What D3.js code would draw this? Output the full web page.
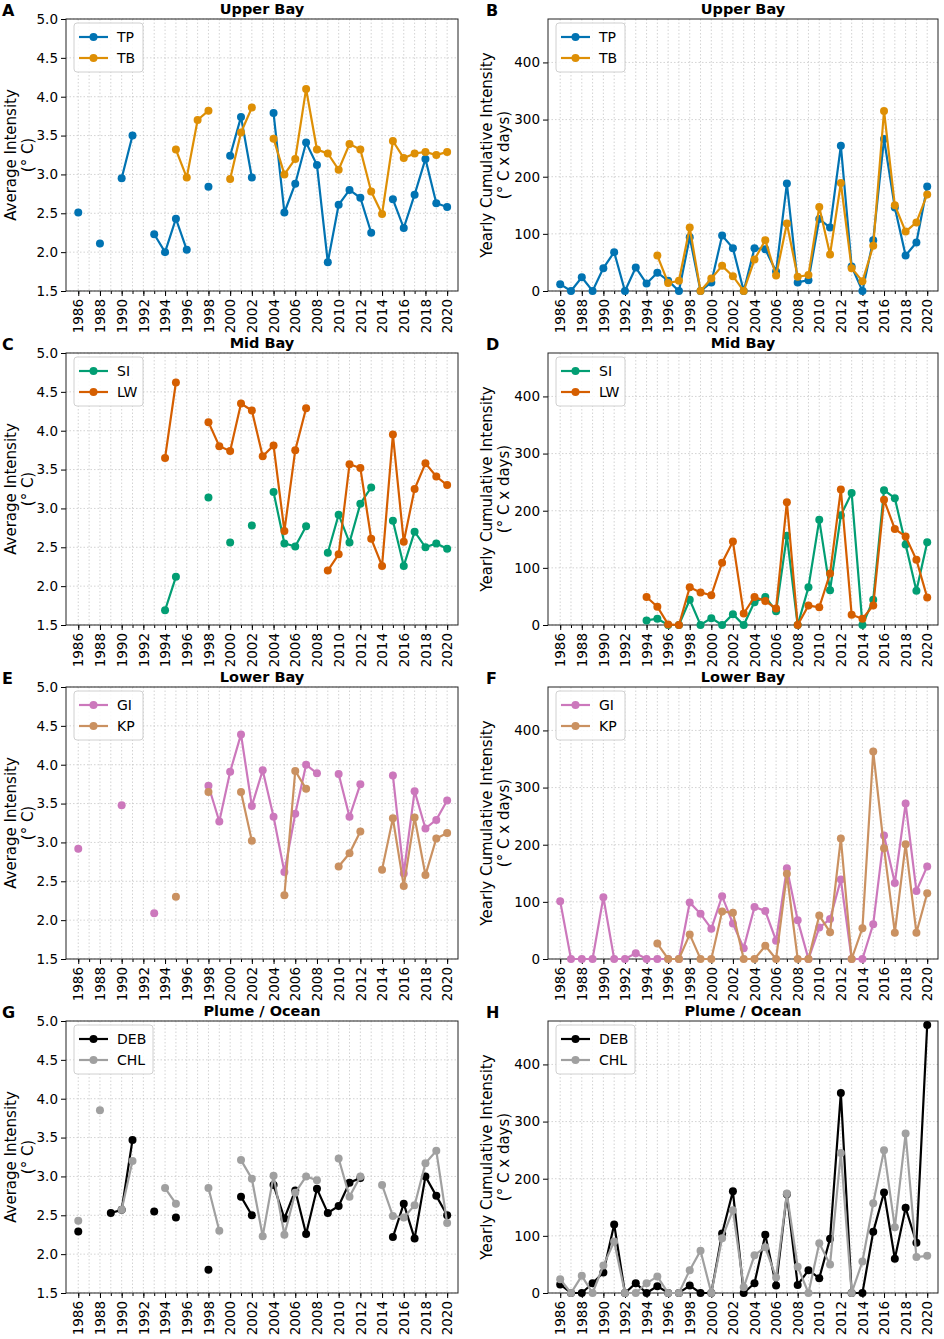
<!DOCTYPE html>
<html>
<head>
<meta charset="utf-8">
<script src="https://cdn.jsdelivr.net/npm/d3@7"></script>
<style>
body { margin: 0; background: #fff; }
text { font-family: "DejaVu Sans", sans-serif; }
</style>
</head>
<body>
<div id="chart"></div>
<script>
// years on the x axis
var years = [1986, 1987, 1988, 1989, 1990, 1991, 1992, 1993, 1994, 1995,
             1996, 1997, 1998, 1999, 2000, 2001, 2002, 2003, 2004, 2005,
             2006, 2007, 2008, 2009, 2010, 2011, 2012, 2013, 2014, 2015,
             2016, 2017, 2018, 2019, 2020];
var yearLabels = [1986, 1988, 1990, 1992, 1994, 1996, 1998, 2000, 2002, 2004,
                  2006, 2008, 2010, 2012, 2014, 2016, 2018, 2020];
var avgTicks = [1.5, 2.0, 2.5, 3.0, 3.5, 4.0, 4.5, 5.0];
var cumTicks = [0, 100, 200, 300, 400];

// Upper Bay
var tpAvg = [2.51, null, 2.11, null, 2.95, 3.50, null, 2.23, 2.00, 2.43,
             2.03, null, 2.84, null, 3.24, 3.74, 2.96, null, 3.79, 2.51,
             2.88, 3.41, 3.12, 1.87, 2.61, 2.80, 2.70, 2.25, null, 2.68,
             2.31, 2.74, 3.20, 2.63, 2.58];
var tbAvg = [null, null, null, null, null, null, null, null, null, 3.32,
             2.96, 3.70, 3.82, null, 2.94, 3.54, 3.86, null, 3.46, 3.00,
             3.20, 4.10, 3.32, 3.27, 3.06, 3.39, 3.32, 2.78, 2.49, 3.43,
             3.21, 3.27, 3.29, 3.25, 3.29];
var tpCum = [12, 0, 24, 0, 40, 68, 0, 41, 13, 32,
             18, 0, 94, 0, 15, 97, 75, 0, 75, 73,
             34, 188, 15, 19, 126, 111, 254, 43, 0, 89,
             266, 146, 62, 85, 183];
var tbCum = [null, null, null, null, null, null, null, null, null, 62,
             14, 18, 111, 0, 22, 44, 26, 0, 55, 89,
             27, 118, 25, 28, 147, 64, 189, 40, 17, 79,
             315, 150, 104, 120, 169];

// Mid Bay
var siAvg = [null, null, null, null, null, null, null, null, 1.69, 2.12,
             null, null, 3.14, null, 2.56, null, 2.78, null, 3.21, 2.55,
             2.51, 2.77, null, 2.43, 2.92, 2.56, 3.06, 3.27, null, 2.84,
             2.26, 2.70, 2.50, 2.55, 2.48];
var lwAvg = [null, null, null, null, null, null, null, null, 3.65, 4.62,
             null, null, 4.11, 3.80, 3.74, 4.35, 4.26, 3.67, 3.81, 2.71,
             3.75, 4.29, null, 2.20, 2.41, 3.57, 3.52, 2.61, 2.26, 3.95,
             2.57, 3.25, 3.58, 3.41, 3.30];
var siCum = [null, null, null, null, null, null, null, null, 8, 11,
             0, 0, 44, 0, 12, 0, 19, 0, 40, 49,
             24, 156, 0, 66, 184, 61, 192, 231, 0, 44,
             236, 222, 141, 60, 145];
var lwCum = [null, null, null, null, null, null, null, null, 49, 32,
             1, 0, 66, 57, 52, 109, 146, 20, 49, 42,
             29, 215, 0, 34, 31, 90, 237, 18, 11, 34,
             219, 168, 155, 114, 48];

// Lower Bay
var giAvg = [2.92, null, null, null, 3.48, null, null, 2.09, null, null,
             null, null, 3.73, 3.27, 3.91, 4.39, 3.47, 3.93, 3.33, 2.62,
             3.37, 4.00, 3.89, null, 3.88, 3.33, 3.75, null, null, 3.86,
             2.60, 3.66, 3.18, 3.29, 3.54];
var kpAvg = [null, null, null, null, null, null, null, null, null, 2.30,
             null, null, 3.65, null, null, 3.65, 3.02, null, null, 2.32,
             3.92, 3.69, null, null, 2.69, 2.86, 3.14, null, 2.65, 3.31,
             2.44, 3.32, 2.58, 3.05, 3.12];
var giCum = [101, 0, 0, 0, 108, 0, 0, 10, 0, 0,
             0, 0, 99, 79, 53, 110, 62, 19, 91, 84,
             32, 159, 68, 0, 55, 70, 139, 0, 0, 61,
             216, 133, 272, 119, 162];
var kpCum = [null, null, null, null, null, null, null, null, null, 27,
             0, 0, 43, 0, 0, 83, 81, 0, 0, 23,
             0, 149, 0, 0, 76, 47, 211, 0, 54, 363,
             194, 46, 201, 46, 115];

// Plume / Ocean
var debAvg = [2.29, null, null, 2.53, 2.57, 3.47, null, 2.55, null, 2.47,
              null, null, 1.80, null, null, 2.74, 2.50, null, 2.89, 2.46,
              2.82, 2.26, 2.84, 2.53, 2.62, 2.92, 2.98, null, null, 2.22,
              2.65, 2.20, 3.00, 2.75, 2.50];
var chlAvg = [2.43, null, 3.85, null, 2.57, 3.20, null, null, 2.85, 2.65,
              null, null, 2.85, 2.30, null, 3.21, 2.97, 2.23, 3.01, 2.25,
              2.79, 3.00, 2.95, null, 3.23, 2.74, 3.00, null, 2.89, 2.49,
              2.47, 2.63, 3.17, 3.33, 2.40];
var debCum = [15, 0, 0, 17, 36, 120, 0, 17, 0, 12,
              0, 0, 13, 0, 0, 104, 178, 0, 17, 102,
              13, 173, 14, 40, 26, 95, 350, 0, 0, 107,
              176, 60, 149, 88, 469];
var chlCum = [24, 0, 30, 0, 48, 90, 0, 0, 17, 29,
              0, 0, 40, 74, 0, 96, 145, 10, 66, 80,
              27, 174, 46, 0, 87, 50, 245, 0, 55, 157,
              250, 115, 279, 63, 65];

var colors = {TP: "#0173b2", TB: "#de8f05", SI: "#029e73", LW: "#d55e00",
              GI: "#cc78bc", KP: "#ca9161", DEB: "#000000", CHL: "#a0a0a0"};

var panels = [
  {letter: "A", title: "Upper Bay", row: 0, col: 0, names: ["TP", "TB"], data: [tpAvg, tbAvg]},
  {letter: "B", title: "Upper Bay", row: 0, col: 1, names: ["TP", "TB"], data: [tpCum, tbCum]},
  {letter: "C", title: "Mid Bay", row: 1, col: 0, names: ["SI", "LW"], data: [siAvg, lwAvg]},
  {letter: "D", title: "Mid Bay", row: 1, col: 1, names: ["SI", "LW"], data: [siCum, lwCum]},
  {letter: "E", title: "Lower Bay", row: 2, col: 0, names: ["GI", "KP"], data: [giAvg, kpAvg]},
  {letter: "F", title: "Lower Bay", row: 2, col: 1, names: ["GI", "KP"], data: [giCum, kpCum]},
  {letter: "G", title: "Plume / Ocean", row: 3, col: 0, names: ["DEB", "CHL"], data: [debAvg, chlAvg]},
  {letter: "H", title: "Plume / Ocean", row: 3, col: 1, names: ["DEB", "CHL"], data: [debCum, chlCum]}
];

var svg = d3.select("#chart")
  .append("svg")
  .attr("width", 944)
  .attr("height", 1339);

var h = 272;

panels.forEach(function(p) {
  var left = p.col == 0 ? 66 : 548;
  var w = p.col == 0 ? 392 : 390;
  var top = 19 + p.row * 334;
  var avg = p.col == 0;

  var g = svg.append("g")
    .attr("transform", "translate(" + left + "," + top + ")");

  var x = d3.scaleLinear().domain([1984.87, 2021]).range([0, w]);
  var y = avg ? d3.scaleLinear().domain([1.5, 5]).range([h, 0])
              : d3.scaleLinear().domain([0, 476]).range([h, 0]);
  var yTicks = avg ? avgTicks : cumTicks;

  // grid
  g.selectAll(".vgrid").data(years).enter().append("line")
    .attr("x1", function(d) { return x(d); })
    .attr("x2", function(d) { return x(d); })
    .attr("y1", 0).attr("y2", h)
    .attr("stroke", "#c8c8c8").attr("stroke-width", 0.8)
    .attr("stroke-dasharray", "1.5,2");
  g.selectAll(".hgrid").data(yTicks).enter().append("line")
    .attr("x1", 0).attr("x2", w)
    .attr("y1", function(d) { return y(d); })
    .attr("y2", function(d) { return y(d); })
    .attr("stroke", "#c8c8c8").attr("stroke-width", 0.8)
    .attr("stroke-dasharray", "1.5,2");

  // x axis: minor ticks each year, labelled ticks every 2 years
  var xMinor = g.append("g").attr("transform", "translate(0," + h + ")")
    .call(d3.axisBottom(x).tickValues(years).tickSize(3).tickSizeOuter(0).tickFormat(""));
  xMinor.select(".domain").remove();
  var xAxis = g.append("g").attr("transform", "translate(0," + h + ")")
    .call(d3.axisBottom(x).tickValues(yearLabels).tickSize(5).tickSizeOuter(0).tickFormat(d3.format("d")));
  xAxis.select(".domain").remove();
  xAxis.selectAll("text")
    .attr("y", 0).attr("x", -8).attr("dy", "0.35em")
    .attr("transform", "rotate(-90)")
    .style("text-anchor", "end")
    .style("font-size", "13.5px")
    .style("font-family", "DejaVu Sans")
    .attr("fill", "#000");

  var yAxis = g.append("g")
    .call(d3.axisLeft(y).tickValues(yTicks).tickSize(5).tickSizeOuter(0)
      .tickFormat(avg ? d3.format(".1f") : d3.format("d")));
  yAxis.select(".domain").remove();
  yAxis.selectAll("text")
    .style("font-size", "13.5px")
    .style("font-family", "DejaVu Sans")
    .attr("fill", "#000");

  // frame
  g.append("rect")
    .attr("width", w).attr("height", h)
    .attr("fill", "none").attr("stroke", "#222").attr("stroke-width", 1);

  // lines and markers
  var line = d3.line()
    .defined(function(d) { return d.v != null; })
    .x(function(d) { return x(d.year); })
    .y(function(d) { return y(d.v); });

  p.names.forEach(function(name, i) {
    var pts = years.map(function(yr, j) { return {year: yr, v: p.data[i][j]}; });
    g.append("path")
      .datum(pts)
      .attr("fill", "none")
      .attr("stroke", colors[name])
      .attr("stroke-width", 2.2)
      .attr("d", line);
    g.selectAll(".pt" + name).data(pts.filter(function(d) { return d.v != null; }))
      .enter().append("circle")
      .attr("cx", function(d) { return x(d.year); })
      .attr("cy", function(d) { return y(d.v); })
      .attr("r", 4)
      .attr("fill", colors[name]);
  });

  // legend
  var lw = p.names[0] == "DEB" ? 79 : 69;
  var leg = g.append("g").attr("transform", "translate(8,4)");
  leg.append("rect")
    .attr("width", lw).attr("height", 49).attr("rx", 3)
    .attr("fill", "#fff").attr("fill-opacity", 0.85)
    .attr("stroke", "#d0d0d0");
  p.names.forEach(function(name, i) {
    var ly = 14 + i * 21;
    leg.append("line")
      .attr("x1", 5).attr("x2", 34).attr("y1", ly).attr("y2", ly)
      .attr("stroke", colors[name]).attr("stroke-width", 2.2);
    leg.append("circle").attr("cx", 19.5).attr("cy", ly).attr("r", 4).attr("fill", colors[name]);
    leg.append("text")
      .attr("x", 43).attr("y", ly).attr("dy", "0.36em")
      .style("font-size", "14px")
      .text(name);
  });

  // title
  g.append("text")
    .attr("x", w / 2).attr("y", -5)
    .attr("text-anchor", "middle")
    .style("font-size", "14.5px").style("font-weight", "bold")
    .text(p.title);

  // panel letter
  svg.append("text")
    .attr("x", p.col == 0 ? 2 : 486).attr("y", top - 3)
    .style("font-size", "16px").style("font-weight", "bold")
    .text(p.letter);

  // y label (two lines)
  var cy = top + h / 2;
  var lx = p.col == 0 ? [11, 28] : [487, 504];
  var lines = avg ? ["Average Intensity", "(° C)"] : ["Yearly Cumulative Intensity", "(° C x days)"];
  lines.forEach(function(t, k) {
    svg.append("text")
      .attr("transform", "translate(" + lx[k] + "," + cy + ") rotate(-90)")
      .attr("text-anchor", "middle")
      .attr("dy", "0.35em")
      .style("font-size", "15px")
      .text(t);
  });
});
</script>
</body>
</html>
